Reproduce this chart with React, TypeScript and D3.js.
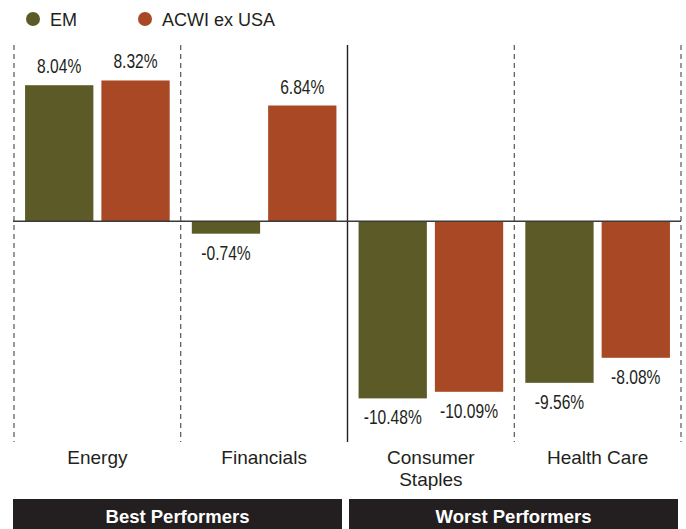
import React from "react";
import * as d3 from "d3";

const categories = ["Energy", "Financials", "Consumer Staples", "Health Care"];
const categoryLines = [["Energy"], ["Financials"], ["Consumer", "Staples"], ["Health Care"]];
const seriesNames = ["EM", "ACWI ex USA"];
const emValues = [8.04, -0.74, -10.48, -9.56];
const acwiValues = [8.32, 6.84, -10.09, -8.08];
const groupLabels = ["Best Performers", "Worst Performers"];

const W = 686;
const H = 529;
const colors = ["#5c5b27", "#a94824"];
const sansFont = "'Liberation Sans', Arial, Helvetica, sans-serif";

export default function App() {
  const x0 = d3.scaleBand<string>().domain(categories).range([14, 681]).paddingInner(0).paddingOuter(0);
  const bw = x0.bandwidth();
  const x1 = d3.scaleBand<string>().domain(seriesNames).range([0, bw]).paddingInner(0.105).paddingOuter(0.145);
  const y = d3.scaleLinear().domain([-13, 10.3]).range([441, 47]);
  const y0 = y(0);
  const series = [emValues, acwiValues];

  const boundaries = [0, 1, 2, 3, 4].map((i) => 14 + i * bw);

  return (
    <svg width={W} height={H} style={{ position: "absolute", left: 0, top: 0, background: "#fff" }}>
      {/* legend */}
      {seriesNames.map((s, i) => {
        const lx = i === 0 ? 33 : 145;
        return (
          <g key={s}>
            <circle cx={lx} cy={19} r={7} fill={colors[i]} />
            <text x={lx + 17} y={25.5} fontFamily={sansFont} fontSize={18} fill="#231f20">{s}</text>
          </g>
        );
      })}

      {/* vertical separators */}
      {boundaries.map((bx, i) => (
        <line
          key={i}
          x1={bx}
          x2={bx}
          y1={45}
          y2={442}
          stroke={i === 2 ? "#231f20" : "#333"}
          strokeWidth={i === 2 ? 1.4 : 1}
          strokeDasharray={i === 2 ? undefined : "5,4"}
        />
      ))}

      {/* bars */}
      {categories.map((c, ci) => (
        <g key={c} transform={`translate(${x0(c)},0)`}>
          {seriesNames.map((s, si) => {
            const v = series[si][ci];
            const top = Math.min(y(v), y0);
            const h = Math.abs(y(v) - y0);
            const bx = x1(s)!;
            const cx = bx + x1.bandwidth() / 2;
            const ly = v >= 0 ? y(v) - 12 : y(v) + 26;
            return (
              <g key={s}>
                <rect x={bx} y={top} width={x1.bandwidth()} height={h} fill={colors[si]} />
                <text
                  transform={`translate(${cx},${ly}) scale(0.8,1)`}
                  textAnchor="middle"
                  fontFamily={sansFont}
                  fontSize={19.5}
                  fill="#231f20"
                >
                  {v.toFixed(2)}%
                </text>
              </g>
            );
          })}
        </g>
      ))}

      {/* zero line */}
      <line x1={13} x2={681} y1={y0} y2={y0} stroke="#3a3a3a" strokeWidth={1.5} />

      {/* category labels */}
      {categories.map((c, ci) => (
        <text key={c} x={x0(c)! + bw / 2} y={464} textAnchor="middle" fontFamily={sansFont} fontSize={19} fill="#231f20">
          {categoryLines[ci].map((ln, li) => (
            <tspan key={li} x={x0(c)! + bw / 2} dy={li === 0 ? 0 : 22}>{ln}</tspan>
          ))}
        </text>
      ))}

      {/* group boxes */}
      {groupLabels.map((g, gi) => {
        const bx = gi === 0 ? 13 : 349;
        const bwid = 329;
        return (
          <g key={g}>
            <rect x={bx} y={499} width={bwid} height={30} fill="#231f20" />
            <text x={bx + bwid / 2} y={522.5} textAnchor="middle" fontFamily={sansFont} fontWeight="bold" fontSize={18.5} fill="#fff">
              {g}
            </text>
          </g>
        );
      })}
    </svg>
  );
}
